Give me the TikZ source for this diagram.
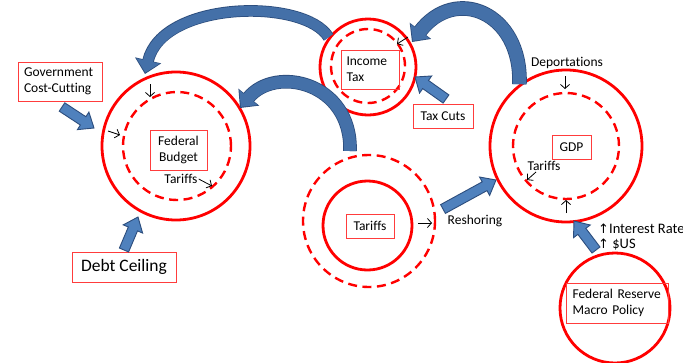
\documentclass[tikz,border=0pt]{standalone}
\usepackage{fontspec}
\setmainfont{Carlito}[Ligatures={NoCommon}]
\newfontfamily\arrfont{DejaVu Sans}
\usetikzlibrary{arrows.meta,calc}
\definecolor{cred}{RGB}{255,0,0}
\definecolor{boxred}{RGB}{255,60,60}
\definecolor{bafill}{RGB}{79,129,189}
\definecolor{badraw}{RGB}{44,77,125}
\definecolor{cafill}{RGB}{68,112,168}
\newcommand\blockarrow[2]{%
  \coordinate (#1hb) at ($(#2)!13pt!(#1)$);
  \draw[barrow] ($(#1)!5pt!90:(#2)$) -- ($(#1hb)!5pt!90:(#2)$) -- ($(#1hb)!10.5pt!90:(#2)$) -- (#2)
     -- ($(#1hb)!10.5pt!-90:(#2)$) -- ($(#1hb)!5pt!-90:(#2)$) -- ($(#1)!5pt!-90:(#2)$) -- cycle;}
\newcommand\curvedarrow[5]{%
  \draw[draw=badraw, line width=#5+1.6pt, -{Triangle[width=26pt,length=14pt]}] (#1) .. controls #2 and #3 .. (#4);
  \draw[draw=cafill, line width=#5, shorten >=1.4pt, -{Triangle[width=23pt,length=12pt]}] (#1) .. controls #2 and #3 .. (#4);}
\begin{document}
\begin{tikzpicture}[x=1pt,y=-1pt,
  solidc/.style={draw=cred, line width=2.8pt, circle, minimum size=#1, inner sep=0pt},
  dashc/.style={draw=cred, line width=2.4pt, circle, dash pattern=on 9pt off 5.5pt, minimum size=#1, inner sep=0pt},
  lbox/.style={draw=boxred, line width=1pt, font=\fontsize{13.5}{16}\selectfont, inner sep=0pt},
  lbl/.style={font=\fontsize{13.5}{16}\selectfont, inner sep=1pt},
  barrow/.style={fill=bafill, draw=badraw, line width=0.9pt, line join=miter},
  smallarr/.style={-{Straight Barb[length=4pt,width=9pt]}, line width=0.8pt, black}]
\useasboundingbox (0,0) rectangle (683,362);
\fill[white] (0,0) rectangle (683,362);

% circles
\node[solidc=148pt] (fbOut) at (176,146) {};
\node[dashc=108pt] (fbIn) at (177,146) {};
\node[solidc=96pt] (itOut) at (368,67) {};
\node[dashc=74pt] (itIn) at (368,66) {};
\node[solidc=152pt] (gdpOut) at (566,146) {};
\node[dashc=106pt] (gdpIn) at (566,146) {};
\node[dashc=132pt] (tarOut) at (369,221) {};
\node[solidc=89pt] (tarIn) at (367.5,225.5) {};
\node[solidc=110pt] (fedC) at (615,308) {};

% boxes
\node[lbox, text width=72pt, inner xsep=6pt, minimum height=39pt, align=left] (gcc) at (60,81.5) {Government\\Cost-Cutting};
\node[lbox, minimum width=57pt, minimum height=40pt, align=center] (fb) at (178.5,150) {Federal\\Budget};
\node[lbox, text width=47pt, inner xsep=5.5pt, minimum height=39pt, align=left] (it) at (370,69.5) {Income\\Tax};
\node[lbox, minimum width=60pt, minimum height=24pt] (tc) at (443,116) {Tax Cuts};
\node[lbox, minimum width=39pt, minimum height=24pt] (gdp) at (571.5,147) {GDP};
\node[lbox, minimum width=48pt, minimum height=24pt] (tar) at (370,226) {Tariffs};
\node[lbox, minimum width=104pt, minimum height=30pt, font=\fontsize{17.5}{21}\selectfont] (debt) at (124,267) {Debt Ceiling};
\node[lbox, text width=89pt, inner xsep=6.5pt, minimum height=40pt, align=left] (fed) at (617,303) {Federal Reserve\\Macro Policy};

% labels
\node[lbl] (fbTar) at (181,179) {Tariffs};
\node[lbl] (dep) at (567,63) {Deportations};
\node[lbl] (gdpTar) at (544,166) {Tariffs};
\node[lbl] (resh) at (475,221) {Reshoring};
\node[lbl, anchor=west, font=\fontsize{14.5}{17}\selectfont] (ir) at (597,229) {{\arrfont\fontsize{13}{15}\selectfont ↑}Interest Rates};
\node[lbl, anchor=west, font=\fontsize{14.5}{17}\selectfont] (usd) at (597,245) {{\arrfont\fontsize{13}{15}\selectfont ↑} \$US};

% small arrows
\coordinate (a1s) at (150,84);  \coordinate (a1e) at (150,97);
\coordinate (a2s) at (108,131); \coordinate (a2e) at (120,135);
\coordinate (a3e) at (212,186);
\coordinate (a4s) at (408,37);  \coordinate (a4e) at (397,44);
\coordinate (a5s) at (565,76);  \coordinate (a5e) at (565,89);
\coordinate (a6s) at (536,172); \coordinate (a6e) at (527,180);
\coordinate (a7s) at (566,213); \coordinate (a7e) at (566,200);
\coordinate (a8s) at (418,223); \coordinate (a8e) at (432,223);
\draw[smallarr] (a1s) -- (a1e);
\draw[smallarr] (a2s) -- (a2e);
\draw[smallarr] (fbTar.east) -- (a3e);
\draw[smallarr] (a4s) -- (a4e);
\draw[smallarr] (a5s) -- (a5e);
\draw[smallarr] (a6s) -- (a6e);
\draw[smallarr] (a7s) -- (a7e);
\draw[smallarr] (a8s) -- (a8e);

% straight block arrows
\coordinate (gccT) at (62,107);   \coordinate (gccH) at (94,128);
\coordinate (debtT) at (124,250); \coordinate (debtH) at (138,217);
\coordinate (tcT) at (446,99);    \coordinate (tcH) at (415,77);
\coordinate (reT) at (443,209);   \coordinate (reH) at (496,180);
\coordinate (fedT) at (596,250);  \coordinate (fedH) at (574,221);
\blockarrow{gccT}{gccH}
\blockarrow{debtT}{debtH}
\blockarrow{tcT}{tcH}
\blockarrow{reT}{reH}
\blockarrow{fedT}{fedH}

% curved block arrows
\coordinate (c1e) at (145,74);
\coordinate (c2s) at (350,151);
\coordinate (c2e) at (240,108);
\coordinate (c3e) at (412,42);
\curvedarrow{itOut.143}{(305,-2)}{(162,0)}{c1e}{10pt}
\curvedarrow{c2s}{(352,82)}{(275,65)}{c2e}{12pt}
\curvedarrow{gdpOut.127}{(522,12)}{(455,-15)}{c3e}{13pt}
\end{tikzpicture}
\end{document}
